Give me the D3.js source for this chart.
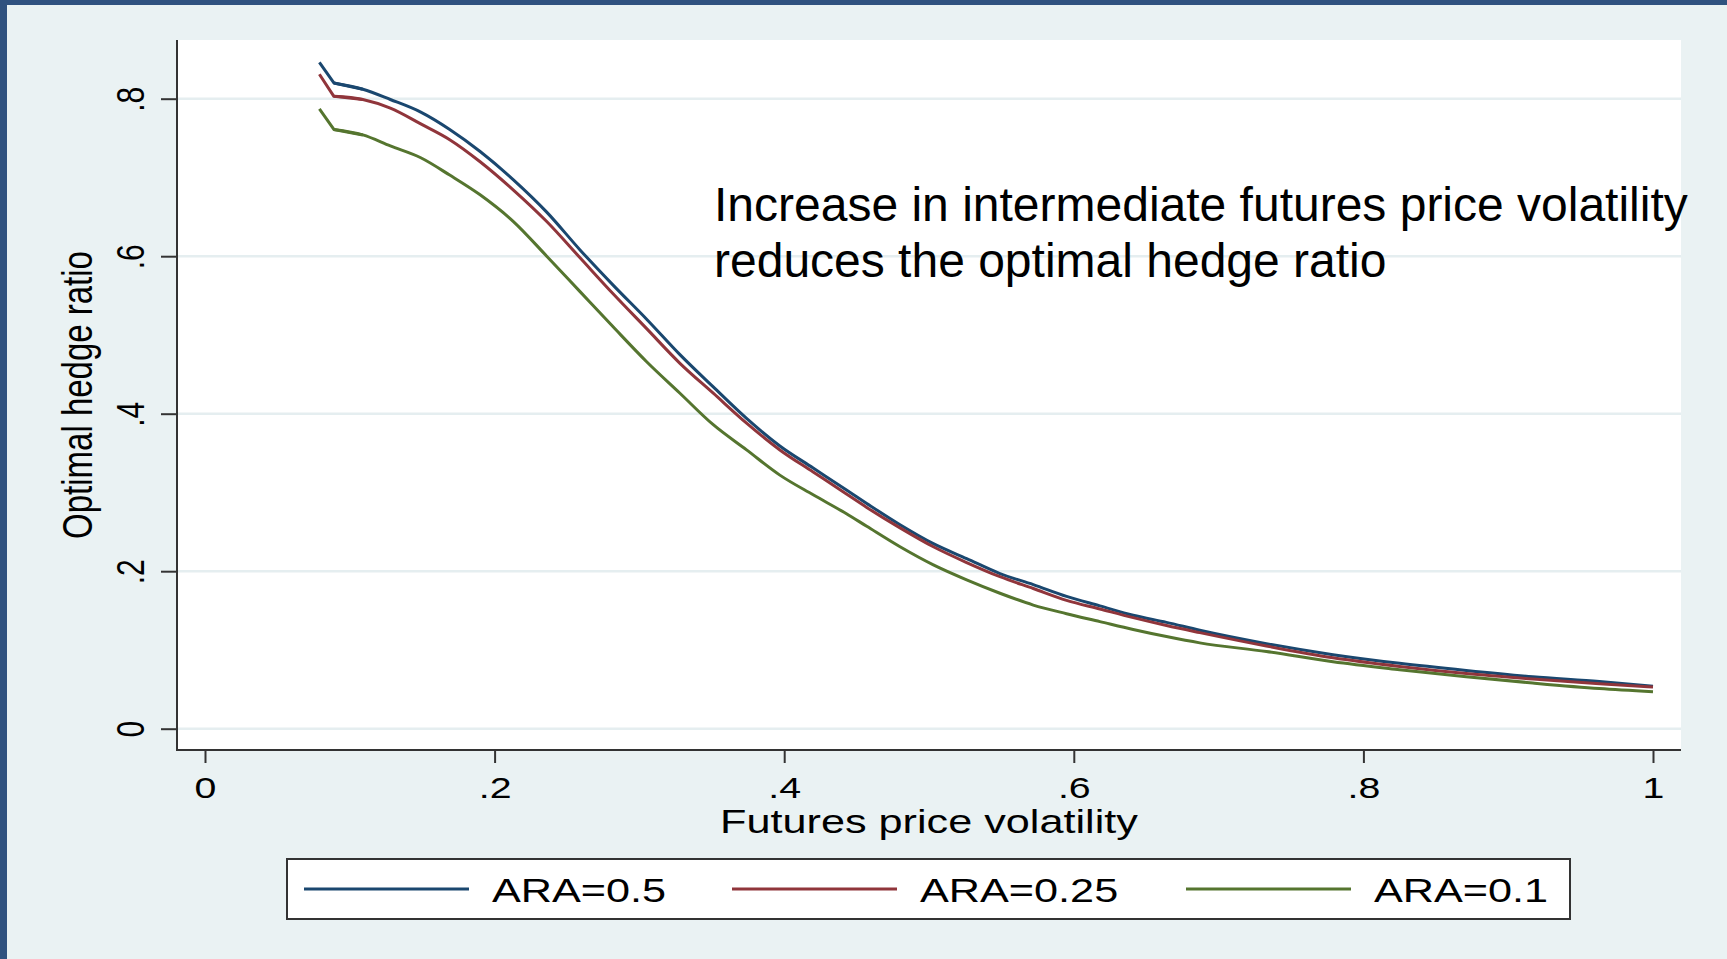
<!DOCTYPE html>
<html><head><meta charset="utf-8">
<script src="https://cdn.jsdelivr.net/npm/d3@7"></script>
<style>html,body{margin:0;padding:0;background:#eaf2f3;overflow:hidden}svg{display:block}</style>
</head><body><svg id="c" width="1727" height="959"></svg>
<script>
const xValues = [0.079,0.089,0.109,0.128,0.149,0.169,0.19,0.213,0.236,0.259,0.282,0.305,0.328,0.351,0.374,0.397,0.42,0.443,0.457,0.48,0.503,0.526,0.549,0.572,0.595,0.618,0.641,0.664,0.687,0.733,0.779,0.825,0.871,0.917,0.963,1.0];
const ara05  = [0.846,0.820,0.812,0.799,0.783,0.761,0.733,0.697,0.656,0.608,0.563,0.520,0.475,0.434,0.394,0.359,0.331,0.303,0.286,0.259,0.235,0.216,0.197,0.183,0.168,0.156,0.144,0.135,0.125,0.108,0.094,0.083,0.074,0.066,0.060,0.054];
const ara025 = [0.831,0.803,0.799,0.788,0.768,0.748,0.720,0.684,0.644,0.598,0.552,0.508,0.464,0.426,0.388,0.354,0.326,0.298,0.281,0.255,0.231,0.211,0.193,0.178,0.163,0.152,0.141,0.131,0.122,0.105,0.090,0.079,0.070,0.063,0.057,0.053];
const ara01  = [0.787,0.761,0.754,0.740,0.725,0.703,0.678,0.644,0.600,0.555,0.510,0.466,0.426,0.386,0.354,0.322,0.297,0.273,0.257,0.231,0.208,0.189,0.172,0.157,0.146,0.136,0.126,0.117,0.109,0.098,0.085,0.075,0.066,0.058,0.051,0.047];
const seriesNames = ["ARA=0.5","ARA=0.25","ARA=0.1"];
const seriesColors = ["#1a476f","#90353b","#55752f"];
const xTicks = [0,0.2,0.4,0.6,0.8,1];
const xTickLabels = ["0",".2",".4",".6",".8","1"];
const yTicks = [0,0.2,0.4,0.6,0.8];
const yTickLabels = ["0",".2",".4",".6",".8"];
const xTitle = "Futures price volatility";
const yTitle = "Optimal hedge ratio";
const noteLines = ["Increase in intermediate futures price volatility","reduces the optimal hedge ratio"];

const series = [ara05, ara025, ara01].map((vals,i)=>({name:seriesNames[i],color:seriesColors[i],pts:vals.map((v,j)=>[xValues[j],v])}));

const W=1727,H=959;
const plot={l:177,r:1681,t:40,b:750};
const SX=1.31; // horizontal stretch of axis text
const FONT="'Liberation Sans', Arial, sans-serif";
const svg=d3.select("#c");

// background + frame
svg.append("rect").attr("width",W).attr("height",H).attr("fill","#eaf2f3");
svg.append("rect").attr("x",0).attr("y",0).attr("width",W).attr("height",5).attr("fill","#30527f");
svg.append("rect").attr("x",0).attr("y",0).attr("width",7).attr("height",H).attr("fill","#30527f");

// plot region
svg.append("rect").attr("x",plot.l).attr("y",plot.t).attr("width",plot.r-plot.l).attr("height",plot.b-plot.t).attr("fill","#ffffff");

const x=d3.scaleLinear().domain([0,1]).range([205,1653]);
const y=d3.scaleLinear().domain([0,0.8]).range([728.7,98.7]);

// grid
svg.append("g").selectAll("line").data(yTicks).join("line")
  .attr("x1",plot.l).attr("x2",plot.r).attr("y1",d=>y(d)).attr("y2",d=>y(d))
  .attr("stroke","#e5eef0").attr("stroke-width",2.5);

// lines: sharp first segment, smooth remainder
const lineLin=d3.line().x(d=>x(d[0])).y(d=>y(d[1]));
const lineSm=d3.line().x(d=>x(d[0])).y(d=>y(d[1])).curve(d3.curveMonotoneX);
const sg=svg.append("g").selectAll("g").data(series).join("g");
sg.append("path").attr("d",d=>lineLin(d.pts.slice(0,3)))
  .attr("fill","none").attr("stroke",d=>d.color).attr("stroke-width",3).attr("stroke-linejoin","round");
sg.append("path").attr("d",d=>lineSm(d.pts.slice(1)))
  .attr("fill","none").attr("stroke",d=>d.color).attr("stroke-width",3).attr("stroke-linejoin","round");

// axes
const gx=svg.append("g").attr("transform",`translate(0,${plot.b})`)
  .call(d3.axisBottom(x).tickValues(xTicks).tickFormat((d,i)=>xTickLabels[i]).tickSize(13));
gx.select(".domain").remove();
gx.selectAll(".tick line").attr("stroke","#333").attr("stroke-width",2);
gx.selectAll(".tick text").attr("y",null).attr("dy",null)
  .attr("transform",`translate(0,48) scale(${SX},1)`)
  .attr("font-family",FONT).attr("font-size",30).attr("fill","#000").attr("text-anchor","middle");

const gy=svg.append("g").attr("transform",`translate(${plot.l},0)`)
  .call(d3.axisLeft(y).tickValues(yTicks).tickFormat((d,i)=>yTickLabels[i]).tickSize(16));
gy.select(".domain").remove();
gy.selectAll(".tick line").attr("stroke","#333").attr("stroke-width",2);
gy.selectAll(".tick text").attr("x",null).attr("dy",null)
  .attr("transform",`translate(-33,0) scale(${SX},1) rotate(-90)`)
  .attr("font-family",FONT).attr("font-size",30).attr("fill","#000").attr("text-anchor","middle");

svg.append("line").attr("x1",plot.l).attr("x2",plot.l).attr("y1",plot.t).attr("y2",plot.b+1).attr("stroke","#333").attr("stroke-width",2);
svg.append("line").attr("x1",plot.l).attr("x2",plot.r).attr("y1",plot.b).attr("y2",plot.b).attr("stroke","#333").attr("stroke-width",2);

// axis titles
svg.append("text").text(xTitle).attr("transform",`translate(${(plot.l+plot.r)/2},833) scale(${SX},1)`)
  .attr("text-anchor","middle").attr("font-family",FONT).attr("font-size",33).attr("fill","#000");
svg.append("text").text(yTitle).attr("transform",`translate(92,${(plot.t+plot.b)/2}) scale(${SX},1) rotate(-90)`)
  .attr("text-anchor","middle").attr("font-family",FONT).attr("font-size",33).attr("fill","#000");

// annotation
svg.append("g").selectAll("text").data(noteLines).join("text")
  .attr("x",714).attr("y",(d,i)=>221+i*56).text(d=>d)
  .attr("font-family",FONT).attr("font-size",48).attr("fill","#000");

// legend
const lg=svg.append("g");
lg.append("rect").attr("x",287).attr("y",859).attr("width",1283).attr("height",60)
  .attr("fill","#fff").attr("stroke","#333").attr("stroke-width",2);
const legX=[304,732,1186];
const items=lg.selectAll("g.item").data(series).join("g").attr("class","item");
items.append("line").attr("x1",(d,i)=>legX[i]).attr("x2",(d,i)=>legX[i]+165)
  .attr("y1",889).attr("y2",889).attr("stroke",d=>d.color).attr("stroke-width",3);
items.append("text").text(d=>d.name).attr("transform",(d,i)=>`translate(${legX[i]+188},902) scale(${SX},1)`)
  .attr("font-family",FONT).attr("font-size",33).attr("fill","#000");
</script></body></html>
